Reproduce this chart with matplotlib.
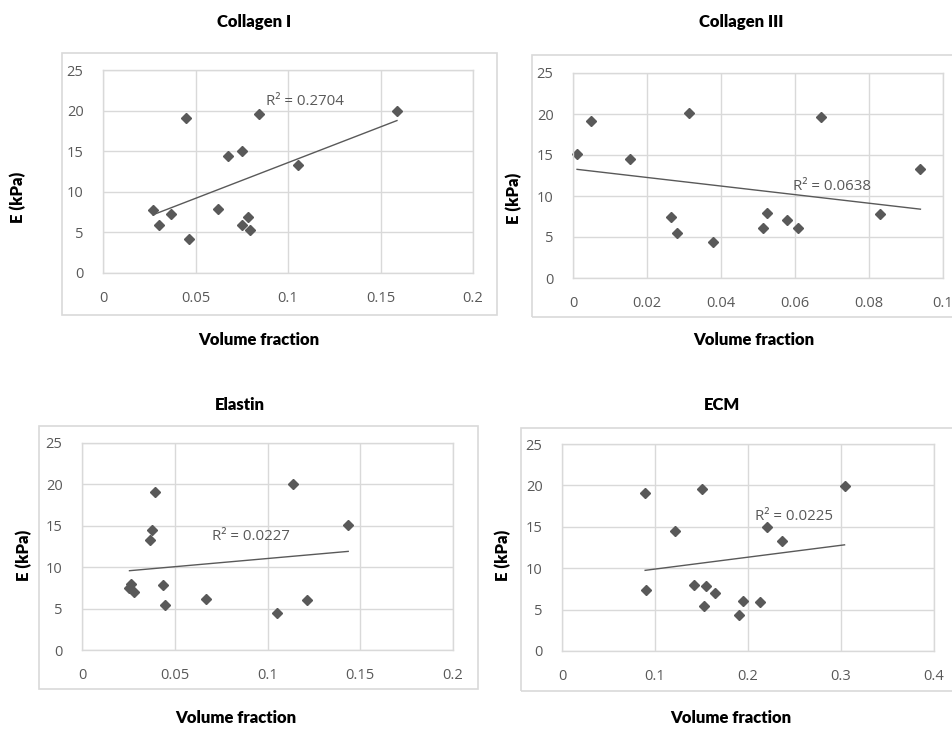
import numpy as np
import matplotlib
matplotlib.use("Agg")
import matplotlib.pyplot as plt
from matplotlib.patches import Rectangle

W, H = 953, 731

# data: volume fraction vs E (kPa)
col1_x = [0.027, 0.0369, 0.0301, 0.0449, 0.0465, 0.062, 0.0677, 0.0753, 0.0753, 0.0782, 0.0795, 0.0841, 0.1054, 0.1589]
col1_y = [7.7, 7.3, 5.86, 19.1, 4.18, 7.9, 14.47, 15.08, 5.94, 6.93, 5.29, 19.63, 13.24, 20.0]

col3_x = [0.0011, 0.005, 0.0155, 0.0266, 0.028, 0.0314, 0.0379, 0.0514, 0.0523, 0.0579, 0.0609, 0.0671, 0.083, 0.0939]
col3_y = [15.16, 19.15, 14.55, 7.44, 5.45, 20.08, 4.39, 6.14, 7.97, 7.07, 6.06, 19.63, 7.85, 13.33]

ela_x = [0.0263, 0.0256, 0.0281, 0.0364, 0.0378, 0.0391, 0.0439, 0.0446, 0.0668, 0.1052, 0.1136, 0.1211, 0.1435]
ela_y = [8.01, 7.45, 7.0, 13.29, 14.49, 19.08, 7.89, 5.48, 6.12, 4.43, 20.0, 6.04, 15.1]

ecm_x = [0.0894, 0.0905, 0.1216, 0.1417, 0.151, 0.1524, 0.1549, 0.1649, 0.1903, 0.1943, 0.2125, 0.2204, 0.2369, 0.3038]
ecm_y = [19.08, 7.37, 14.49, 7.97, 19.57, 5.43, 7.81, 6.96, 4.35, 6.04, 5.96, 15.02, 13.25, 19.93]

titles = ["Collagen I", "Collagen III", "Elastin", "ECM"]
r2_labels = ["R\u00b2 = 0.2704", "R\u00b2 = 0.0638", "R\u00b2 = 0.0227", "R\u00b2 = 0.0225"]
r2_pos = [(0.0881, 21.06), (0.0595, 11.2), (0.070, 13.65), (0.2075, 16.2)]
xmax = [0.2, 0.1, 0.2, 0.4]
xstep = [0.05, 0.02, 0.05, 0.1]

GRAY = "#595959"
GRID = "#d9d9d9"

# pixel layout: plot area, chart box, title, xlabel, ylabel
layout = [
    dict(plot=(103, 70, 473, 273), box=(62, 53, 497, 315), title=(254, 22), xl=(259, 340), yl=(18, 197)),
    dict(plot=(573, 73, 943, 278), box=(532, 55, 970, 317), title=(741, 22), xl=(754, 340), yl=(514, 198)),
    dict(plot=(82, 443, 453, 650), box=(39, 426, 478, 689), title=(240, 405), xl=(236, 718), yl=(24, 555)),
    dict(plot=(562, 444, 934, 651), box=(521, 428, 970, 691), title=(722, 405), xl=(731, 718), yl=(503, 555)),
]

datasets = [(col1_x, col1_y), (col3_x, col3_y), (ela_x, ela_y), (ecm_x, ecm_y)]

fig = plt.figure(figsize=(W / 100, H / 100), dpi=100)

def fx(px):
    return px / W

def fy(py):
    return 1 - py / H

label_font = dict(family="Lato", weight="heavy", size=12, color="black")

for i, (xs, ys) in enumerate(datasets):
    L = layout[i]
    bx0, by0, bx1, by1 = L["box"]
    fig.patches.append(Rectangle((fx(bx0), fy(by1)), fx(bx1) - fx(bx0), fy(by0) - fy(by1),
                                 transform=fig.transFigure, fill=False, edgecolor=GRID, lw=1.2))

    x0, y0, x1, y1 = L["plot"]
    ax = fig.add_axes([fx(x0), fy(y1), fx(x1) - fx(x0), fy(y0) - fy(y1)])
    ax.set_xlim(0, xmax[i])
    ax.set_ylim(0, 25)
    xt = np.arange(0, xmax[i] + 1e-9, xstep[i])
    ax.set_xticks(xt)
    ax.set_xticklabels(["{:g}".format(round(v, 3)) for v in xt])
    ax.set_yticks(range(0, 26, 5))
    ax.grid(True, color=GRID, lw=1)
    ax.set_axisbelow(True)
    for s in ax.spines.values():
        s.set_color(GRID)
        s.set_linewidth(1)
    ax.tick_params(length=0, labelsize=10.5, labelcolor=GRAY)
    ax.tick_params(axis="x", pad=13)
    ax.tick_params(axis="y", pad=14)
    for lab in ax.get_xticklabels() + ax.get_yticklabels():
        lab.set_family("Open Sans")

    ax.plot(xs, ys, linestyle="none", marker="D", markersize=5, color=GRAY, clip_on=False)

    # linear trendline over the data range
    k, b = np.polyfit(xs, ys, 1)
    tx = np.array([min(xs), max(xs)])
    ax.plot(tx, k * tx + b, color=GRAY, lw=1)

    ax.text(r2_pos[i][0], r2_pos[i][1], r2_labels[i], ha="left", va="center",
            fontsize=10.8, color=GRAY, family="Open Sans")

    fig.text(fx(L["title"][0]), fy(L["title"][1]), titles[i], ha="center", va="center", **label_font)
    fig.text(fx(L["xl"][0]), fy(L["xl"][1]), "Volume fraction", ha="center", va="center", **label_font)
    fig.text(fx(L["yl"][0]), fy(L["yl"][1]), "E (kPa)", ha="center", va="center", rotation=90, **label_font)

fig.savefig("out.png", dpi=100)
